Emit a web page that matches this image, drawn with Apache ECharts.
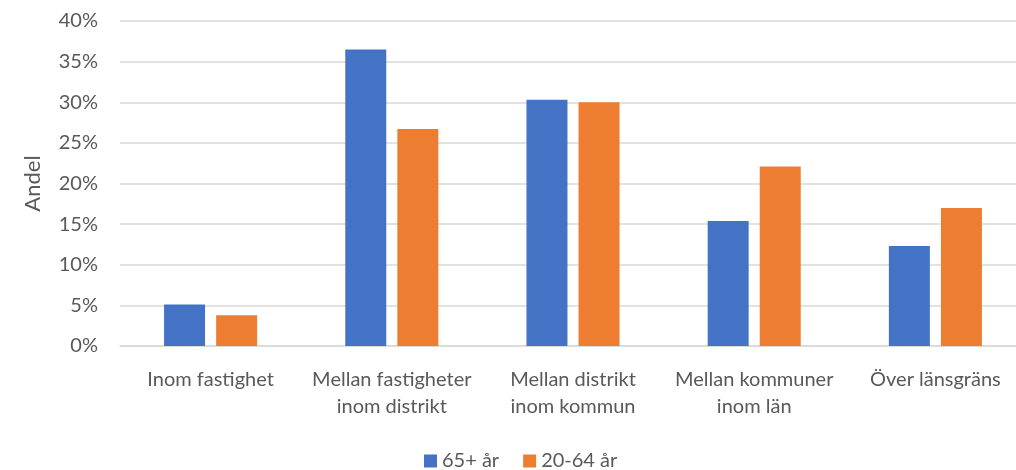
<!DOCTYPE html>
<html>
<head>
<meta charset="utf-8">
<script src="https://cdn.jsdelivr.net/npm/echarts@6/dist/echarts.min.js"></script>
<style>
  html, body { margin: 0; padding: 0; background: #ffffff; overflow: hidden; width: 1016px; height: 470px; }
  /* the plot area continues slightly past the right edge of the window */
  #chart { width: 1026px; height: 470px; }
</style>
</head>
<body>
<div id="chart"></div>
<script>
// Flyttavstånd per åldersgrupp (andel av flyttar, %)
const categories = [
  'Inom fastighet',
  'Mellan fastigheter\ninom distrikt',
  'Mellan distrikt\ninom kommun',
  'Mellan kommuner\ninom län',
  'Över länsgräns'
];
const seriesNames = ['65+ år', '20-64 år'];
const older = [5.1, 36.5, 30.3, 15.4, 12.3];
const working = [3.8, 26.7, 30.0, 22.1, 17.0];
const colors = ['#4472C4', '#ED7D31'];

const font = 'Lato, "Open Sans", sans-serif';
const textColor = '#595959';

const chart = echarts.init(document.getElementById('chart'), null, { renderer: 'canvas' });
chart.setOption({
  animation: false,
  color: colors,
  grid: { left: 120, right: 0, top: 21, height: 325, containLabel: false },
  legend: {
    top: 446,
    left: 419,
    itemWidth: 13,
    itemHeight: 13,
    itemGap: 24,
    icon: 'rect',
    textStyle: { color: textColor, fontSize: 20, fontFamily: font },
    data: seriesNames
  },
  xAxis: {
    type: 'category',
    data: categories,
    axisLine: { show: true, lineStyle: { color: '#d9d9d9', width: 1.5 } },
    axisTick: { show: false },
    axisLabel: {
      color: textColor,
      fontSize: 20,
      fontFamily: font,
      lineHeight: 27,
      margin: 20,
      interval: 0
    }
  },
  yAxis: {
    type: 'value',
    min: 0,
    max: 40,
    interval: 5,
    name: 'Andel',
    nameLocation: 'middle',
    nameGap: 76,
    nameRotate: 90,
    nameTextStyle: { color: textColor, fontSize: 22, fontFamily: font },
    axisLine: { show: false },
    axisTick: { show: false },
    splitLine: { lineStyle: { color: '#d9d9d9', width: 1.5 } },
    axisLabel: {
      color: textColor,
      fontSize: 20,
      fontFamily: font,
      margin: 22,
      formatter: v => v + '%'
    }
  },
  series: [
    {
      name: seriesNames[0],
      type: 'bar',
      data: older,
      barWidth: 41,
      barGap: '27%',
      itemStyle: { color: colors[0] }
    },
    {
      name: seriesNames[1],
      type: 'bar',
      data: working,
      barWidth: 41,
      barGap: '27%',
      itemStyle: { color: colors[1] }
    }
  ]
});
</script>
</body>
</html>
